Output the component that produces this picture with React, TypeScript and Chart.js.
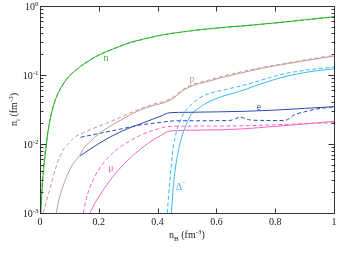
import React, { useEffect, useRef } from "react";
import { Chart, registerables } from "chart.js";
Chart.register(...registerables);

// ---- data (n_B in fm^-3, n_i in fm^-3) ----
const xN = [0.003, 0.008, 0.015, 0.022, 0.03, 0.04, 0.05, 0.065, 0.08, 0.1, 0.125, 0.15, 0.2, 0.25, 0.3, 0.35, 0.4, 0.5, 0.6, 0.7, 0.8, 0.9, 1.0];
const nSolid = [0.001, 0.0025, 0.0055, 0.01, 0.018, 0.029, 0.041, 0.058, 0.075, 0.097, 0.12, 0.145, 0.195, 0.24, 0.29, 0.33, 0.37, 0.43, 0.48, 0.52, 0.57, 0.63, 0.7];
const xNd = [0.002, 0.007, 0.014, 0.021, 0.03, 0.04, 0.05, 0.065, 0.08, 0.1, 0.125, 0.15, 0.2, 0.25, 0.3, 0.35, 0.4, 0.5, 0.6, 0.7, 0.8, 0.9, 1.0];
const nDashed = [0.001, 0.0026, 0.0056, 0.0102, 0.0185, 0.0295, 0.0415, 0.0585, 0.0755, 0.0975, 0.1205, 0.1455, 0.194, 0.239, 0.288, 0.329, 0.369, 0.429, 0.478, 0.518, 0.567, 0.627, 0.695];

const xPs = [0.055, 0.065, 0.079, 0.095, 0.113, 0.136, 0.147, 0.17, 0.2, 0.227, 0.26, 0.3, 0.34, 0.38, 0.431, 0.453, 0.48, 0.51, 0.567, 0.62, 0.68, 0.75, 0.8, 0.9, 1.0];
const pSolid = [0.001, 0.0016, 0.0025, 0.0037, 0.0052, 0.0069, 0.0085, 0.0108, 0.014, 0.0169, 0.0205, 0.0255, 0.031, 0.0355, 0.041, 0.0459, 0.057, 0.0676, 0.08, 0.092, 0.106, 0.124, 0.136, 0.161, 0.188];
const xPd = [0.011, 0.02, 0.034, 0.057, 0.079, 0.095, 0.113, 0.14, 0.17, 0.2, 0.227, 0.28, 0.34, 0.38, 0.431, 0.453, 0.48, 0.51, 0.567, 0.62, 0.68, 0.75, 0.8, 0.9, 1.0];
const pDashed = [0.001, 0.00138, 0.00228, 0.005, 0.0082, 0.0099, 0.0121, 0.0141, 0.016, 0.0181, 0.02, 0.0251, 0.0322, 0.037, 0.043, 0.048, 0.059, 0.07, 0.083, 0.096, 0.11, 0.127, 0.139, 0.165, 0.193];

const xEs = [0.136, 0.17, 0.204, 0.238, 0.272, 0.306, 0.34, 0.374, 0.408, 0.442, 0.5, 0.6, 0.7, 0.8, 0.9, 1.0];
const eSolid = [0.0067, 0.0084, 0.0104, 0.0126, 0.0149, 0.0172, 0.0195, 0.0221, 0.0251, 0.0284, 0.0288, 0.0292, 0.0298, 0.031, 0.0328, 0.0347];
const xEd = [0.138, 0.204, 0.272, 0.34, 0.398, 0.453, 0.5, 0.55, 0.6, 0.645, 0.665, 0.68, 0.695, 0.715, 0.75, 0.8, 0.835, 0.85, 0.865, 0.9, 0.934, 0.97, 1.0];
const eDashed = [0.0125, 0.0143, 0.0164, 0.0188, 0.0203, 0.0216, 0.0217, 0.0217, 0.0218, 0.0219, 0.0233, 0.0246, 0.0236, 0.0223, 0.022, 0.0219, 0.022, 0.0238, 0.0265, 0.0293, 0.0318, 0.0334, 0.0347];

const xMs = [0.17, 0.187, 0.204, 0.227, 0.255, 0.283, 0.311, 0.34, 0.374, 0.408, 0.442, 0.55, 0.68, 0.8, 0.9, 1.0];
const muSolid = [0.001, 0.0014, 0.00182, 0.00255, 0.00367, 0.00497, 0.00652, 0.00832, 0.0107, 0.01306, 0.0154, 0.0159, 0.0165, 0.018, 0.0195, 0.0213];
const xMd = [0.1473, 0.1565, 0.17, 0.187, 0.204, 0.227, 0.255, 0.283, 0.311, 0.34, 0.374, 0.408, 0.435, 0.55, 0.68, 0.8, 0.9, 1.0];
const muDashed = [0.001, 0.00154, 0.00238, 0.00343, 0.00456, 0.00607, 0.00793, 0.00968, 0.01143, 0.01327, 0.0152, 0.0168, 0.01795, 0.0182, 0.0183, 0.019, 0.0197, 0.0203];

const xDs = [0.447, 0.452, 0.457, 0.465, 0.474, 0.484, 0.497, 0.515, 0.54, 0.565, 0.62, 0.68, 0.73, 0.775, 0.83, 0.888, 0.94, 1.0];
const deltaSolid = [0.001, 0.002, 0.0034, 0.006, 0.0092, 0.0135, 0.019, 0.027, 0.033, 0.039, 0.049, 0.058, 0.069, 0.08, 0.094, 0.106, 0.115, 0.123];
const xDd = [0.433, 0.437, 0.442, 0.452, 0.463, 0.474, 0.49, 0.508, 0.535, 0.565, 0.62, 0.68, 0.73, 0.775, 0.83, 0.888, 0.94, 1.0];
const deltaDashed = [0.001, 0.0017, 0.003, 0.0082, 0.0145, 0.0204, 0.028, 0.035, 0.044, 0.052, 0.06, 0.069, 0.079, 0.09, 0.104, 0.115, 0.123, 0.13];

const xTicks = [0, 0.2, 0.4, 0.6, 0.8, 1];
const xTickLabels = ["0", "0.2", "0.4", "0.6", "0.8", "1"];
const yDecades = [-3, -2, -1, 0];

const GREEN = "#2db52d";
const ROSY = "#c49a9a";
const BLUE = "#2a4cb0";
const PINK = "#f266c4";
const CYAN = "#38b8f8";

const FONT = '"Liberation Serif", "Times New Roman", serif';

type Seg = { t: string; size: number; dy: number };

function drawRich(ctx: CanvasRenderingContext2D, segs: Seg[], x: number, y: number, align: string) {
  let w = 0;
  const widths: number[] = [];
  for (const s of segs) {
    ctx.font = `${s.size}px ${FONT}`;
    const m = ctx.measureText(s.t).width;
    widths.push(m);
    w += m;
  }
  let cx = align === "right" ? x - w : align === "center" ? x - w / 2 : x;
  ctx.textAlign = "left";
  ctx.textBaseline = "alphabetic";
  segs.forEach((s, i) => {
    ctx.font = `${s.size}px ${FONT}`;
    ctx.fillText(s.t, cx, y + s.dy);
    cx += widths[i];
  });
}

function pts(xs: number[], ys: number[]) {
  return xs.map((x, i) => ({ x, y: ys[i] }));
}

const framePlugin = {
  id: "frame",
  afterDraw(chart: any) {
    const ctx: CanvasRenderingContext2D = chart.ctx;
    const { left, right, top, bottom } = chart.chartArea;
    const xs = chart.scales.x;
    const ys = chart.scales.y;
    ctx.save();
    ctx.strokeStyle = "#333";
    ctx.lineWidth = 1;
    const L = Math.round(left) + 0.5, R = Math.round(right) + 0.5, T = Math.round(top) + 0.5, B = Math.round(bottom) + 0.5;
    ctx.strokeRect(L, T, R - L, B - T);
    ctx.beginPath();
    for (const v of xTicks) {
      const px = Math.round(xs.getPixelForValue(v)) + 0.5;
      ctx.moveTo(px, B); ctx.lineTo(px, B - 5);
      ctx.moveTo(px, T); ctx.lineTo(px, T + 5);
    }
    for (const d of yDecades) {
      const py = Math.round(ys.getPixelForValue(Math.pow(10, d))) + 0.5;
      ctx.moveTo(L, py); ctx.lineTo(L + 6, py);
      ctx.moveTo(R, py); ctx.lineTo(R - 6, py);
      if (d < 0) {
        for (let k = 2; k <= 9; k++) {
          const pm = Math.round(ys.getPixelForValue(k * Math.pow(10, d))) + 0.5;
          ctx.moveTo(L, pm); ctx.lineTo(L + 3, pm);
          ctx.moveTo(R, pm); ctx.lineTo(R - 3, pm);
        }
      }
    }
    ctx.stroke();

    ctx.fillStyle = "#222";
    ctx.font = `10px ${FONT}`;
    ctx.textAlign = "center";
    ctx.textBaseline = "middle";
    xTicks.forEach((v, i) => {
      ctx.fillText(xTickLabels[i], xs.getPixelForValue(v), B + 9);
    });
    for (const d of yDecades) {
      const py = ys.getPixelForValue(Math.pow(10, d));
      drawRich(ctx, [{ t: "10", size: 10, dy: 0 }, { t: d === 0 ? "0" : String(d), size: 7, dy: -4 }], 38.5, py + 3.5, "right");
    }
    const cxm = (left + right) / 2;
    drawRich(ctx, [
      { t: "n", size: 10, dy: 0 },
      { t: "B", size: 7, dy: 2.5 },
      { t: " (fm", size: 10, dy: 0 },
      { t: "-3", size: 7, dy: -4 },
      { t: ")", size: 10, dy: 0 },
    ], cxm, 238, "center");
    ctx.save();
    ctx.translate(17, (top + bottom) / 2);
    ctx.rotate(-Math.PI / 2);
    drawRich(ctx, [
      { t: "n", size: 10, dy: 0 },
      { t: "i", size: 7, dy: 2.5 },
      { t: " (fm", size: 10, dy: 0 },
      { t: "-3", size: 7, dy: -4 },
      { t: ")", size: 10, dy: 0 },
    ], 0, 0, "center");
    ctx.restore();

    ctx.fillStyle = GREEN;
    drawRich(ctx, [{ t: "n", size: 10, dy: 0 }], 106, 61, "center");
    ctx.fillStyle = ROSY;
    drawRich(ctx, [{ t: "p", size: 10, dy: 0 }], 192, 82, "center");
    ctx.fillStyle = BLUE;
    drawRich(ctx, [{ t: "e", size: 10, dy: 0 }], 259, 110, "center");
    ctx.fillStyle = PINK;
    drawRich(ctx, [{ t: "μ", size: 10, dy: 0 }], 111, 171, "center");
    ctx.fillStyle = CYAN;
    drawRich(ctx, [{ t: "Δ", size: 10, dy: 0 }, { t: "−", size: 7, dy: -5 }], 181, 190, "center");
    ctx.restore();
  },
};

function line(data: any, color: string, dashed: boolean) {
  return {
    data,
    borderColor: color,
    backgroundColor: color,
    borderWidth: 1,
    pointRadius: 0,
    fill: false,
    cubicInterpolationMode: "monotone",
    borderDash: dashed ? [4, 2.5] : [],
  };
}

export default function App() {
  const ref = useRef<HTMLCanvasElement>(null);
  useEffect(() => {
    if (!ref.current) return;
    const chart = new Chart(ref.current, {
      type: "line",
      data: {
        datasets: [
          line(pts(xN, nSolid), GREEN, false),
          line(pts(xNd, nDashed), GREEN, true),
          line(pts(xPs, pSolid), ROSY, false),
          line(pts(xPd, pDashed), ROSY, true),
          line(pts(xEs, eSolid), BLUE, false),
          line(pts(xEd, eDashed), BLUE, true),
          line(pts(xMs, muSolid), PINK, false),
          line(pts(xMd, muDashed), PINK, true),
          line(pts(xDs, deltaSolid), CYAN, false),
          line(pts(xDd, deltaDashed), CYAN, true),
        ] as any,
      },
      options: {
        animation: false,
        responsive: false,
        maintainAspectRatio: false,
        layout: { padding: { left: 40, right: 16, top: 6, bottom: 45 } },
        plugins: { legend: { display: false }, tooltip: { enabled: false } },
        scales: {
          x: { type: "linear", min: 0, max: 1, display: false },
          y: { type: "logarithmic", min: 0.001, max: 1, display: false },
        },
      },
      plugins: [framePlugin],
    });
    return () => chart.destroy();
  }, []);
  return (
    <div style={{ position: "fixed", left: 0, top: 0, width: 350, height: 258, background: "#fff" }}>
      <canvas ref={ref} width={350} height={258} style={{ width: 350, height: 258 }} />
    </div>
  );
}
